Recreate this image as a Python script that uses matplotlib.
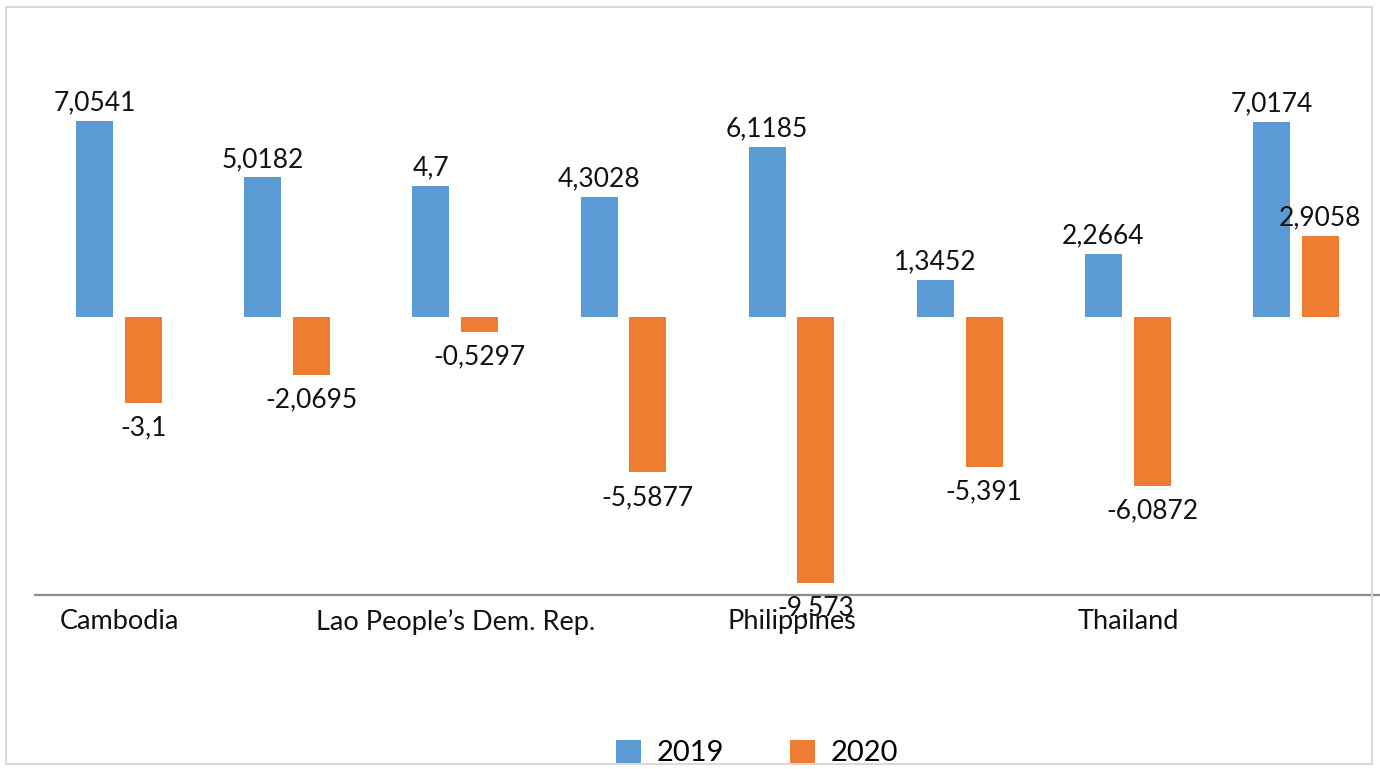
import numpy as np
import matplotlib.pyplot as plt
from matplotlib.patches import Rectangle

# GDP growth by country, 2019 vs 2020
countries = ["Cambodia", "Indonesia", "Lao People\u2019s Dem. Rep.", "Malaysia",
             "Philippines", "Singapore", "Thailand", "Viet Nam"]
g2019 = [7.0541, 5.0182, 4.7, 4.3028, 6.1185, 1.3452, 2.2664, 7.0174]
g2020 = [-3.1, -2.0695, -0.5297, -5.5877, -9.573, -5.391, -6.0872, 2.9058]
years = ["2019", "2020"]

blue = "#5B9BD5"
orange = "#ED7D31"

plt.rcParams['font.family'] = ['Lato', 'DejaVu Sans']

fig = plt.figure(figsize=(13.8, 7.69), dpi=100)
ax = fig.add_axes([0.0254, 0.2263, 0.9746, 0.723])

x = np.arange(len(countries))
w = 0.22
off = 0.145
b1 = ax.bar(x - off, g2019, w, color=blue, label=years[0])
b2 = ax.bar(x + off, g2020, w, color=orange, label=years[1])

def fmt(v):
    return ("%g" % v).replace(".", ",")

for bars, vals in ((b1, g2019), (b2, g2020)):
    for r, v in zip(bars, vals):
        cx = r.get_x() + r.get_width() / 2
        if v >= 0:
            ax.annotate(fmt(v), (cx, v), xytext=(0, 4), textcoords="offset points",
                        ha="center", va="bottom", fontsize=19, color="#111111")
        else:
            ax.annotate(fmt(v), (cx, v), xytext=(0, -9), textcoords="offset points",
                        ha="center", va="top", fontsize=19, color="#111111")

ax.set_xlim(-0.5, len(countries) - 0.5)
ax.set_ylim(-10, 10)
ax.set_yticks([])
ax.set_xticks(x[::2])
ax.set_xticklabels(countries[::2], fontsize=19.5, color="#111111")
ax.tick_params(axis="x", length=0, pad=10)
for s in ("top", "right", "left"):
    ax.spines[s].set_visible(False)
ax.spines["bottom"].set_color("#8c8c8c")
ax.spines["bottom"].set_linewidth(1.6)

ax.legend(loc="center", bbox_to_anchor=(757 / 1380, 16 / 769), ncol=2, frameon=False,
          fontsize=21, handlelength=0.85, handleheight=0.85, columnspacing=2.25,
          handletextpad=0.55, borderpad=0.2, bbox_transform=fig.transFigure)

# light outer frame
fig.patches.append(Rectangle((0.0045, 0.006), 0.99, 0.985, transform=fig.transFigure,
                             fill=False, edgecolor="#d9d9d9", linewidth=1.5))

fig.savefig("out.png", dpi=100)
